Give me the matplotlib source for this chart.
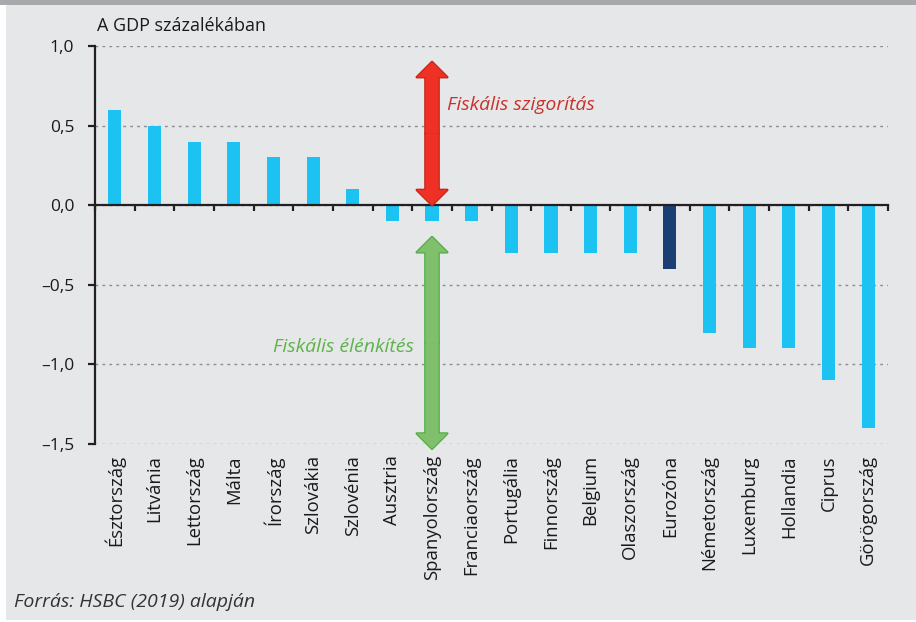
import matplotlib.pyplot as plt
import matplotlib.patches as mpatches
from matplotlib.patches import FancyArrowPatch
import numpy as np

''' Fiscal stance by country, % of GDP '''

countries = ['Észtország', 'Litvánia', 'Lettország', 'Málta', 'Írország', 'Szlovákia',
             'Szlovénia', 'Ausztria', 'Spanyolország', 'Franciaország', 'Portugália',
             'Finnország', 'Belgium', 'Olaszország', 'Eurozóna', 'Németország',
             'Luxemburg', 'Hollandia', 'Ciprus', 'Görögország']
values = [0.6, 0.5, 0.4, 0.4, 0.3, 0.3, 0.1, -0.1, -0.1, -0.1, -0.3, -0.3, -0.3, -0.3,
          -0.4, -0.8, -0.9, -0.9, -1.1, -1.4]
yticks = [1.0, 0.5, 0.0, -0.5, -1.0, -1.5]
ytick_labels = ['1,0', '0,5', '0,0', '–0,5', '–1,0', '–1,5']
tight_range = (0.9, 0.0)      # red arrow, Fiskális szigorítás
loose_range = (-0.2, -1.53)   # green arrow, Fiskális élénkítés
arrow_at = 'Spanyolország'

plt.rcParams['font.family'] = ['Open Sans', 'DejaVu Sans']
bg = '#E6E7E8'
dark = '#231F20'

fig = plt.figure(figsize=(9.16, 6.22), dpi=100, facecolor='white')
fig.patches.append(mpatches.Rectangle((6/916, 2/622), 1, 1, transform=fig.transFigure,
                                      facecolor=bg, edgecolor='none', zorder=-2))
fig.patches.append(mpatches.Rectangle((0, 1 - 5/622), 1, 5/622, transform=fig.transFigure,
                                      facecolor='#A7A9AC', edgecolor='none', zorder=-1))

ax = fig.add_axes([95/916, 1 - 444/622, (888 - 95)/916, (444 - 46)/622])
ax.set_facecolor(bg)

x = np.arange(len(countries))
colors = ['#1B3F73' if c == 'Eurozóna' else '#1CC2F2' for c in countries]
ax.bar(x, values, width=0.33, color=colors, zorder=3)

ax.set_xlim(-0.5, len(countries) - 0.5)
ax.set_ylim(-1.5, 1.0)
ax.set_yticks(yticks)
ax.set_yticklabels(ytick_labels)
ax.grid(axis='y', color='#8C8C8C', linestyle=(0, (2, 3)), linewidth=1.0, zorder=1)
ax.tick_params(axis='y', length=5, width=1.6, color=dark, pad=10, labelsize=12.5,
               labelcolor='#1A1A1A')

for s in ['top', 'right']:
    ax.spines[s].set_visible(False)
ax.spines['left'].set_color(dark)
ax.spines['left'].set_linewidth(1.6)
ax.spines['bottom'].set_position(('data', 0))
ax.spines['bottom'].set_color(dark)
ax.spines['bottom'].set_linewidth(1.6)
ax.spines['bottom'].set_zorder(4)
ax.set_xticks(np.arange(len(countries) + 1) - 0.5)
ax.tick_params(axis='x', direction='out', length=4, width=1.6, color=dark, labelbottom=False)

sec = ax.secondary_xaxis('bottom')
sec.set_xticks(x)
sec.set_xticklabels(countries, rotation=90, fontsize=13.3, color='#1A1A1A')
sec.tick_params(length=0, pad=8)
sec.spines['bottom'].set_visible(False)


def fat_arrow(xpos, y_a, y_b, fc, ec):
    ym = (y_a + y_b) / 2
    style = 'simple,head_length=11,head_width=22,tail_width=9.5'
    for tip in (y_a, y_b):
        ax.add_patch(FancyArrowPatch((xpos, ym), (xpos, tip), arrowstyle=style,
                                     mutation_scale=1, shrinkA=0, shrinkB=0,
                                     facecolor=ec, edgecolor=ec, linewidth=1.8,
                                     zorder=5, clip_on=False))
    for tip in (y_a, y_b):
        ax.add_patch(FancyArrowPatch((xpos, ym), (xpos, tip), arrowstyle=style,
                                     mutation_scale=1, shrinkA=0, shrinkB=0,
                                     facecolor=fc, edgecolor='none', linewidth=0,
                                     zorder=6, clip_on=False))


xa = countries.index(arrow_at)
fat_arrow(xa, tight_range[0], tight_range[1], '#EE3124', '#C4261C')
fat_arrow(xa, loose_range[0], loose_range[1], '#80C06C', '#55AD45')

ax.text(xa + 0.37, 0.63, 'Fiskális szigorítás', color='#C8322B', style='italic',
        fontsize=14, ha='left', va='center', zorder=7)
ax.text(xa - 0.45, -0.89, 'Fiskális élénkítés', color='#5DB34A', style='italic',
        fontsize=14, ha='right', va='center', zorder=7)

fig.text(97/916, 1 - 31/622, 'A GDP százalékában', fontsize=13, color='#1A1A1A',
         ha='left', va='baseline')
fig.text(14/916, 1 - 607/622, 'Forrás: HSBC (2019) alapján', fontsize=14,
         color='#333333', style='italic', ha='left', va='baseline')

fig.savefig('out.png', dpi=100, facecolor=fig.get_facecolor())
